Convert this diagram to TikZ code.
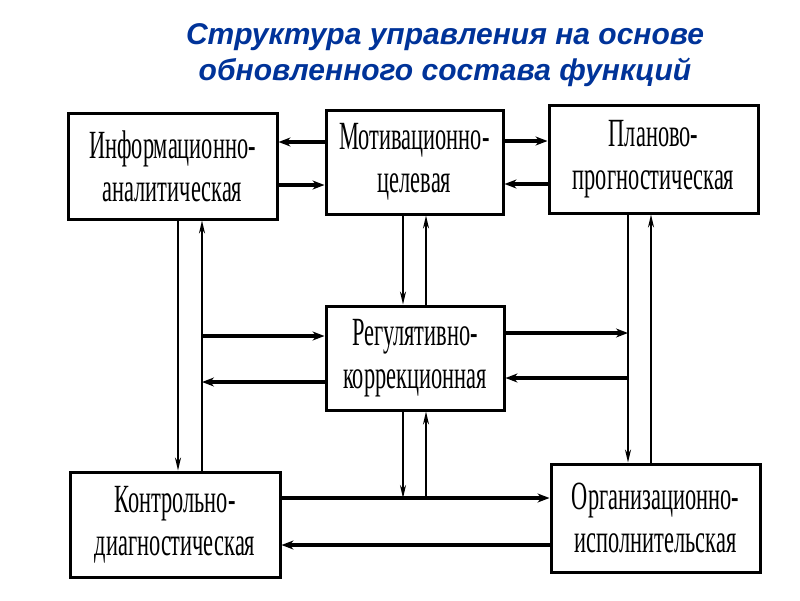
\documentclass[tikz,border=0pt]{standalone}
\usepackage{fontspec}
\setmainfont{Liberation Serif}
\newfontfamily\titlefont{Liberation Sans}
\newfontfamily\boxfont{Liberation Serif}[FakeStretch=0.56]
\usetikzlibrary{arrows.meta}
\definecolor{titleblue}{RGB}{0,51,153}
\begin{document}
\begin{tikzpicture}[x=1pt,y=-1pt,
  box/.style={draw, line width=3pt, rectangle, inner sep=0pt, align=center,
    font=\boxfont\fontsize{40}{43}\selectfont},
  harr/.style={line width=3.2pt, -{Stealth[length=12pt,width=9pt]}},
  varr/.style={line width=1.8pt, -{Stealth[length=13pt,width=6pt]}}]
\useasboundingbox (0,0) rectangle (800,600);
\node[font=\titlefont\bfseries\itshape\fontsize{30}{36}\selectfont, text=titleblue, align=center]
  (title) at (445,55) {Структура управления на основе\\обновленного состава функций};

\node[box, minimum width=209pt, minimum height=106pt] (info) at (172.5,166) {Информационно-\\аналитическая};
\node[box, minimum width=177pt, minimum height=104pt] (mot) at (414.5,162) {Мотивационно-\\целевая};
\node[box, minimum width=209pt, minimum height=108pt] (plan) at (653.5,159) {Планово-\\прогностическая};
\node[box, minimum width=178pt, minimum height=104pt] (reg) at (415,358) {Регулятивно-\\коррекционная};
\node[box, minimum width=210pt, minimum height=105pt] (ctrl) at (175,524.5) {Контрольно-\\диагностическая};
\node[box, minimum width=209pt, minimum height=108pt] (org) at (655.5,518) {Организационно-\\исполнительская};

% top row
\draw[harr] (mot.west |- 0,142) -- (info.east |- 0,142);
\draw[harr] (info.east |- 0,185) -- (mot.west |- 0,185);
\draw[harr] (mot.east |- 0,141) -- (plan.west |- 0,141);
\draw[harr] (plan.west |- 0,184) -- (mot.east |- 0,184);

% left verticals
\draw[varr] (info.south -| 178,0) -- (ctrl.north -| 178,0);
\draw[varr] (ctrl.north -| 202,0) -- (info.south -| 202,0);
\coordinate (a1) at (202,336);
\coordinate (a2) at (202,382);
\draw[harr] (a1) -- (reg.west |- a1);
\draw[harr] (reg.west |- a2) -- (a2);

% middle verticals
\draw[varr] (mot.south -| 403,0) -- (reg.north -| 403,0);
\draw[varr] (reg.north -| 426,0) -- (mot.south -| 426,0);
\coordinate (b1) at (403,498);
\coordinate (b2) at (426,498);
\draw[varr] (reg.south -| b1) -- (b1);
\draw[varr] (b2) -- (reg.south -| b2);

% right verticals
\draw[varr] (plan.south -| 628,0) -- (org.north -| 628,0);
\draw[varr] (org.north -| 651,0) -- (plan.south -| 651,0);
\coordinate (c1) at (628,333);
\coordinate (c2) at (628,378);
\draw[harr] (reg.east |- c1) -- (c1);
\draw[harr] (c2) -- (reg.east |- c2);

% bottom row
\draw[harr] (ctrl.east |- 0,498) -- (org.west |- 0,498);
\draw[harr] (org.west |- 0,545) -- (ctrl.east |- 0,545);
\end{tikzpicture}
\end{document}
